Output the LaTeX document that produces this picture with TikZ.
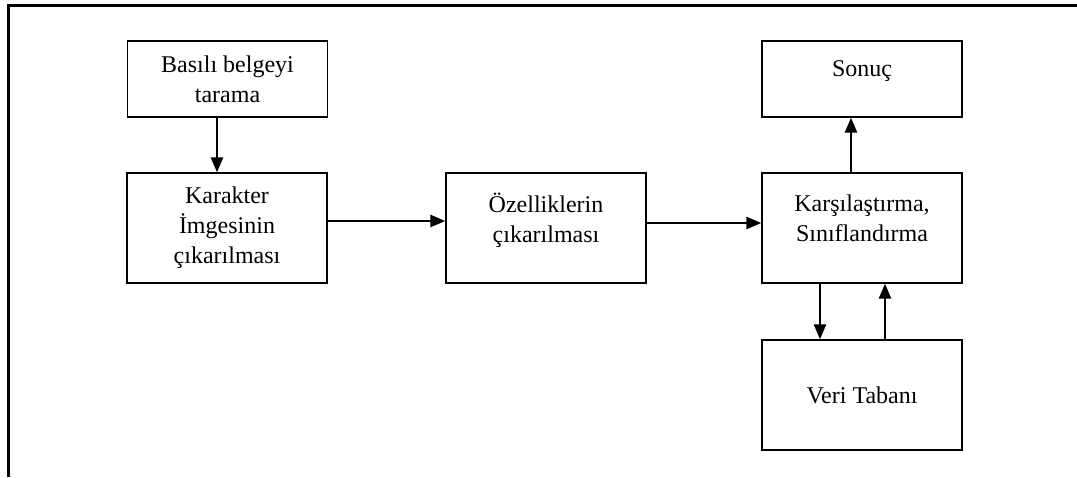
\documentclass[tikz,border=0pt]{standalone}
\usepackage{fontspec}
\setmainfont{Liberation Serif}
\usepackage{tikz}
\usetikzlibrary{arrows.meta}

\begin{document}
\begin{tikzpicture}[
    x=1pt,y=-1pt,
    box/.style={draw,line width=1.3pt,align=center,inner sep=0pt,
                minimum width=200pt,minimum height=110pt,
                font=\fontsize{24}{30}\selectfont},
    flat/.style={box,minimum height=76pt},
    arrow/.style={-{Triangle[length=15pt,width=12pt]},line width=2.5pt}
  ]
    \useasboundingbox (0,0) rectangle (1077,477);
    \draw[line width=3pt] (8,477) -- (8,5) -- (1077,5);
    \node[flat] (scan) at (227.5,79) {Basılı belgeyi\\tarama};
    \node[box] (karakter) at (227,228) {Karakter\\İmgesinin\\çıkarılması};
    \node[box] (ozellik) at (546,228) {Özelliklerin\\çıkarılması\\[-10pt]~};
    \node[box] (karsi) at (862,228) {Karşılaştırma,\\Sınıflandırma\\[-10pt]~};
    \node[flat,text depth=21pt] (sonuc) at (862,79) {Sonuç};
    \node[box] (veri) at (862,395) {Veri Tabanı};
    \draw[arrow] ([xshift=-10.5pt]scan.south) -- ([xshift=-10pt]karakter.north);
    \draw[arrow] ([yshift=7pt]karakter.east) -- ([yshift=7pt]ozellik.west);
    \draw[arrow] ([yshift=5pt]ozellik.east) -- ([yshift=5pt]karsi.west);
    \draw[arrow] ([xshift=-11pt]karsi.north) -- ([xshift=-11pt]sonuc.south);
    \draw[arrow] ([xshift=-42pt]karsi.south) -- ([xshift=-42pt]veri.north);
    \draw[arrow] ([xshift=23pt]veri.north) -- ([xshift=23pt]karsi.south);
  \end{tikzpicture}
\end{document}
